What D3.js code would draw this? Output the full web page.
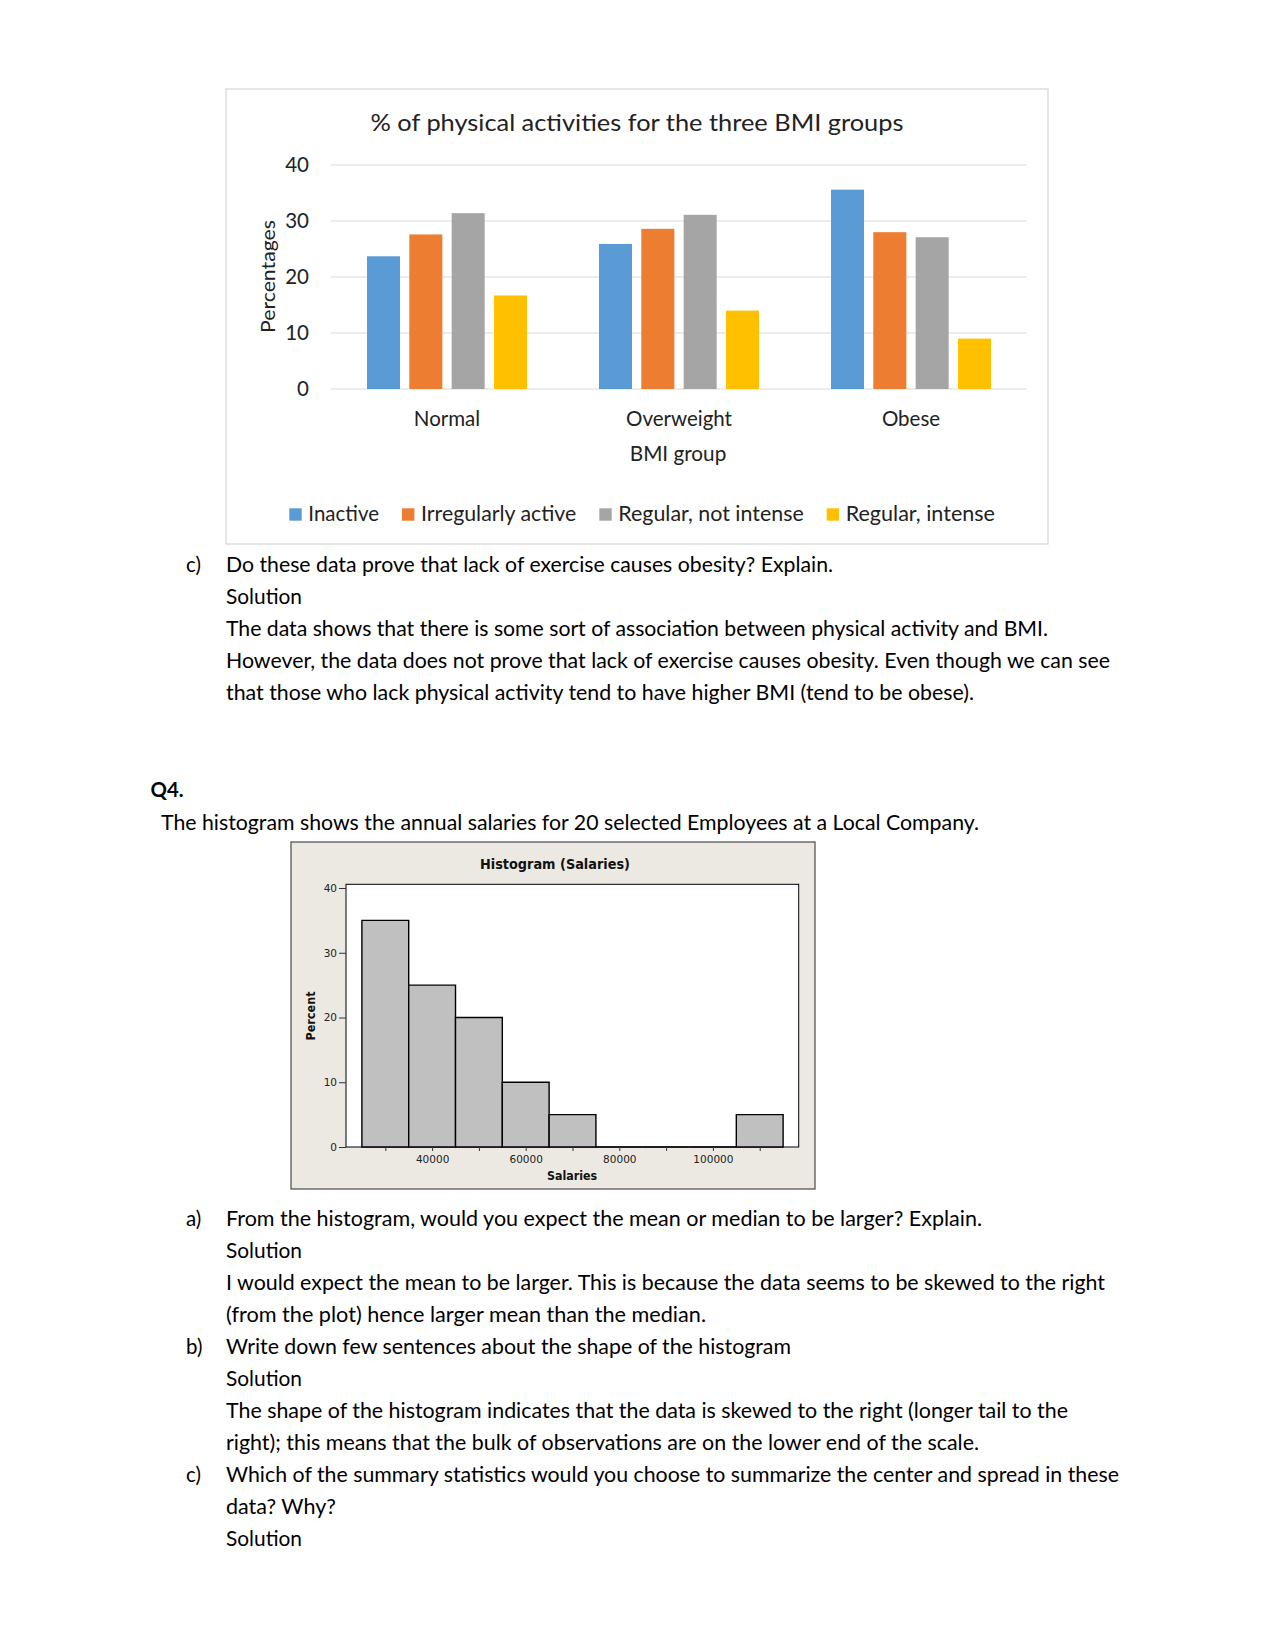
<!DOCTYPE html>
<html><head><meta charset="utf-8">
<script src="https://cdn.jsdelivr.net/npm/d3@7"></script>
<style>html,body{margin:0;padding:0;background:#fff;} svg{display:block;}</style>
</head><body>
<svg id="page" width="1275" height="1650"></svg>
<script>
// ================= DATA =================
// Chart 1: % of physical activities for the three BMI groups
const bmiGroups = ["Normal", "Overweight", "Obese"];
const activityLevels = ["Inactive", "Irregularly active", "Regular, not intense", "Regular, intense"];
const inactive = [23.7, 25.9, 35.6];
const irregularlyActive = [27.6, 28.6, 28.0];
const regularNotIntense = [31.4, 31.1, 27.1];
const regularIntense = [16.7, 14.0, 9.0];
const percentTicks = [0, 10, 20, 30, 40];
const chart1Title = "% of physical activities for the three BMI groups";
const chart1YLabel = "Percentages";
const chart1XLabel = "BMI group";

// Chart 2: Histogram (Salaries)
const salaryBinStarts = [25000, 35000, 45000, 55000, 65000, 75000, 85000, 95000, 105000];
const salaryBinWidth = 10000;
const salaryPercents = [35, 25, 20, 10, 5, 0, 0, 0, 5];
const histYTicks = [0, 10, 20, 30, 40];
const histXTicks = [30000, 40000, 50000, 60000, 70000, 80000, 90000, 100000, 110000];
const histXTickLabels = ["", "40000", "", "60000", "", "80000", "", "100000", ""];
const histTitle = "Histogram (Salaries)";
const histYLabel = "Percent";
const histXLabel = "Salaries";

// Page text
const block1 = [
  {label: "c)", text: "Do these data prove that lack of exercise causes obesity? Explain."},
  {label: "", text: "Solution"},
  {label: "", text: "The data shows that there is some sort of association between physical activity and BMI."},
  {label: "", text: "However, the data does not prove that lack of exercise causes obesity. Even though we can see"},
  {label: "", text: "that those who lack physical activity tend to have higher BMI (tend to be obese)."}
];
const q4Heading = "Q4.";
const q4Intro = "The histogram shows the annual salaries for 20 selected Employees at a Local Company.";
const block2 = [
  {label: "a)", text: "From the histogram, would you expect the mean or median to be larger? Explain."},
  {label: "", text: "Solution"},
  {label: "", text: "I would expect the mean to be larger. This is because the data seems to be skewed to the right"},
  {label: "", text: "(from the plot) hence larger mean than the median."},
  {label: "b)", text: "Write down few sentences about the shape of the histogram"},
  {label: "", text: "Solution"},
  {label: "", text: "The shape of the histogram indicates that the data is skewed to the right (longer tail to the"},
  {label: "", text: "right); this means that the bulk of observations are on the lower end of the scale."},
  {label: "c)", text: "Which of the summary statistics would you choose to summarize the center and spread in these"},
  {label: "", text: "data? Why?"},
  {label: "", text: "Solution"}
];

// ================= LAYOUT / STYLE =================
const seriesColors = ["#5B9BD5", "#ED7D31", "#A5A5A5", "#FFC000"];
const bodyFont = "Lato, 'Open Sans', sans-serif";
const histFont = "'DejaVu Sans', Verdana, sans-serif";
const block1Widths = [607, 76, 822, 884, 748];
const block2Widths = [756, 76, 879, 480, 565, 76, 842, 753, 893, 110, 76];
const legendWidths = [70.7, 155.3, 185.4, 149.3];

const svg = d3.select("#page");
function fit(sel, w) { return sel.attr("textLength", w).attr("lengthAdjust", "spacingAndGlyphs"); }

// ---------- Chart 1 ----------
const c1 = svg.append("g");
c1.append("rect").attr("x", 226).attr("y", 89).attr("width", 822).attr("height", 455)
  .attr("fill", "#fff").attr("stroke", "#D9D9D9").attr("stroke-width", 1.3);

const plot1 = {left: 331, right: 1027, top: 165, bottom: 389};
const xGroup = d3.scaleBand().domain(bmiGroups).range([plot1.left, plot1.right]);
const xSub = d3.scaleBand().domain(activityLevels).range([0, xGroup.bandwidth()])
  .paddingInner(0.22).paddingOuter(0.85);
const y1 = d3.scaleLinear().domain([0, 40]).range([plot1.bottom, plot1.top]);
const color1 = d3.scaleOrdinal().domain(activityLevels).range(seriesColors);

// gridlines
c1.append("g").selectAll("line").data(percentTicks).join("line")
  .attr("x1", plot1.left).attr("x2", plot1.right)
  .attr("y1", d => y1(d)).attr("y2", d => y1(d))
  .attr("stroke", "#D9D9D9").attr("stroke-width", 1.2);

// y tick labels
const yAx1 = c1.append("g").attr("transform", `translate(${plot1.left},0)`)
  .call(d3.axisLeft(y1).tickValues(percentTicks).tickSize(0).tickPadding(22));
yAx1.select(".domain").remove();
yAx1.selectAll("text").attr("font-family", bodyFont).attr("font-size", 20.5).attr("fill", "#222");

// bars
const seriesValues = [inactive, irregularlyActive, regularNotIntense, regularIntense];
const barData = [];
bmiGroups.forEach((g, gi) => activityLevels.forEach((a, ai) =>
  barData.push({group: g, activity: a, value: seriesValues[ai][gi]})));
c1.append("g").selectAll("rect").data(barData).join("rect")
  .attr("x", d => xGroup(d.group) + xSub(d.activity))
  .attr("width", xSub.bandwidth())
  .attr("y", d => y1(d.value))
  .attr("height", d => y1(0) - y1(d.value))
  .attr("fill", d => color1(d.activity));

// x category labels
const xAx1 = c1.append("g").attr("transform", `translate(0,${plot1.bottom})`)
  .call(d3.axisBottom(xGroup).tickSize(0).tickPadding(22));
xAx1.select(".domain").remove();
xAx1.selectAll("text").attr("font-family", bodyFont).attr("font-size", 20.5).attr("fill", "#222");

// title and axis labels
fit(c1.append("text").attr("x", 637).attr("y", 131).attr("text-anchor", "middle")
  .attr("font-family", bodyFont).attr("font-size", 24).attr("fill", "#222").text(chart1Title), 533);
fit(c1.append("text").attr("transform", "translate(275,276.5) rotate(-90)").attr("text-anchor", "middle")
  .attr("font-family", bodyFont).attr("font-size", 20).attr("fill", "#222").text(chart1YLabel), 113);
fit(c1.append("text").attr("x", 678).attr("y", 461).attr("text-anchor", "middle")
  .attr("font-family", bodyFont).attr("font-size", 20.5).attr("fill", "#222").text(chart1XLabel), 96.5);

// legend
const legend = c1.append("g");
let lx = 289.3;
activityLevels.forEach((a, i) => {
  legend.append("rect").attr("x", lx).attr("y", 508.3).attr("width", 12.4).attr("height", 12.4)
    .attr("fill", color1(a));
  fit(legend.append("text").attr("x", lx + 19).attr("y", 520.5)
    .attr("font-family", bodyFont).attr("font-size", 20.5).attr("fill", "#222").text(a), legendWidths[i]);
  lx += 19 + legendWidths[i] + 23;
});

// ---------- Body text ----------
const textStartX = 226, labelX = 186;
function drawBlock(lines, widths, firstCenterY, step) {
  lines.forEach((ln, i) => {
    const by = firstCenterY + i * step + 6;
    if (ln.label) svg.append("text").attr("x", labelX).attr("y", by)
      .attr("font-family", bodyFont).attr("font-size", 20.5).attr("fill", "#000").text(ln.label);
    fit(svg.append("text").attr("x", textStartX).attr("y", by)
      .attr("font-family", bodyFont).attr("font-size", 20.5).attr("fill", "#000").text(ln.text), widths[i]);
  });
}
drawBlock(block1, block1Widths, 566, 32);
fit(svg.append("text").attr("x", 150.5).attr("y", 797).attr("font-family", bodyFont)
  .attr("font-size", 20.5).attr("font-weight", "bold").attr("fill", "#000").text(q4Heading), 33);
fit(svg.append("text").attr("x", 161).attr("y", 830).attr("font-family", bodyFont)
  .attr("font-size", 20.5).attr("fill", "#000").text(q4Intro), 818);
drawBlock(block2, block2Widths, 1220, 32);

// ---------- Histogram ----------
const c2 = svg.append("g");
c2.append("rect").attr("x", 291).attr("y", 842).attr("width", 524).attr("height", 347)
  .attr("fill", "#ECE9E2").attr("stroke", "#4a4a4a").attr("stroke-width", 1.2);
const plot2 = {left: 346, right: 798.7, top: 884.3, bottom: 1147};
c2.append("rect").attr("x", plot2.left).attr("y", plot2.top)
  .attr("width", plot2.right - plot2.left).attr("height", plot2.bottom - plot2.top)
  .attr("fill", "#fff").attr("stroke", "#000").attr("stroke-width", 1);
const xH = d3.scaleLinear().domain([21600, 118330]).range([plot2.left, plot2.right]);
const yH = d3.scaleLinear().domain([0, 40]).range([plot2.bottom, 888]);

c2.append("g").selectAll("path").data(salaryBinStarts.map((s, i) => ({start: s, pct: salaryPercents[i]})))
  .join("path")
  .attr("d", d => {
    const x0 = xH(d.start), x1 = xH(d.start + salaryBinWidth), yb = yH(0), yt = yH(d.pct);
    return `M${x0},${yb}L${x0},${yt}L${x1},${yt}L${x1},${yb}Z`;
  })
  .attr("fill", "#C0C0C0").attr("stroke", "#000").attr("stroke-width", 1.4);

const yAxH = c2.append("g").attr("transform", `translate(${plot2.left},0)`)
  .call(d3.axisLeft(yH).tickValues(histYTicks).tickSize(7).tickPadding(2));
yAxH.select(".domain").remove();
yAxH.selectAll("line").attr("stroke", "#333");
yAxH.selectAll("text").attr("font-family", histFont).attr("font-size", 10.5).attr("fill", "#222");

const xAxH = c2.append("g").attr("transform", `translate(0,${plot2.bottom})`)
  .call(d3.axisBottom(xH).tickValues(histXTicks).tickSize(4).tickPadding(5)
    .tickFormat((d, i) => histXTickLabels[i]));
xAxH.select(".domain").remove();
xAxH.selectAll("line").attr("stroke", "#333");
xAxH.selectAll("text").attr("font-family", histFont).attr("font-size", 10.5).attr("fill", "#222");

fit(c2.append("text").attr("x", 555).attr("y", 868.5).attr("text-anchor", "middle")
  .attr("font-family", histFont).attr("font-size", 14).attr("font-weight", "bold").attr("fill", "#111")
  .text(histTitle), 150);
fit(c2.append("text").attr("transform", "translate(315,1016) rotate(-90)").attr("text-anchor", "middle")
  .attr("font-family", histFont).attr("font-size", 12).attr("font-weight", "bold").attr("fill", "#111")
  .text(histYLabel), 49);
fit(c2.append("text").attr("x", 572).attr("y", 1180).attr("text-anchor", "middle")
  .attr("font-family", histFont).attr("font-size", 12).attr("font-weight", "bold").attr("fill", "#111")
  .text(histXLabel), 50);
</script>
</body></html>
